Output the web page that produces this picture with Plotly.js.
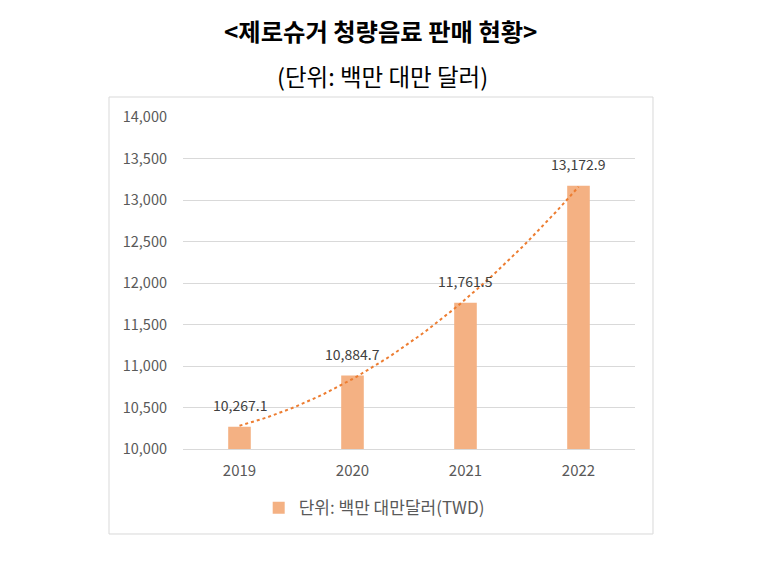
<!DOCTYPE html>
<html>
<head>
<meta charset="utf-8">
<script src="https://cdn.plot.ly/plotly-3.0.1.min.js"></script>
<style>html,body{margin:0;padding:0;background:#fff;}#chart{width:769px;height:583px;}</style>
</head>
<body>
<div id="chart"></div>
<script>
const years = ["2019", "2020", "2021", "2022"];
const sales = [10267.1, 10884.7, 11761.5, 13172.9];
const labels = ["10,267.1", "10,884.7", "11,761.5", "13,172.9"];
const seriesName = "단위: 백만 대만달러(TWD)";
const titleText = "<제로슈거 청량음료 판매 현황>";
const subtitleText = "(단위: 백만 대만 달러)";
const yTicks = [10000, 10500, 11000, 11500, 12000, 12500, 13000, 13500, 14000];

const xs = years.map((_, i) => i);

// polynomial (order 2) trendline, least-squares fit of the data
function quadFit(x, y) {
  const n = x.length;
  let s = [0,0,0,0,0], t = [0,0,0];
  for (let i = 0; i < n; i++) {
    for (let k = 0; k < 5; k++) s[k] += Math.pow(x[i], k);
    for (let k = 0; k < 3; k++) t[k] += y[i] * Math.pow(x[i], k);
  }
  const A = [[s[0], s[1], s[2], t[0]], [s[1], s[2], s[3], t[1]], [s[2], s[3], s[4], t[2]]];
  for (let i = 0; i < 3; i++) {
    for (let j = i + 1; j < 3; j++) {
      const f = A[j][i] / A[i][i];
      for (let k = i; k < 4; k++) A[j][k] -= f * A[i][k];
    }
  }
  const c = [0,0,0];
  for (let i = 2; i >= 0; i--) {
    let v = A[i][3];
    for (let k = i + 1; k < 3; k++) v -= A[i][k] * c[k];
    c[i] = v / A[i][i];
  }
  return c;
}
const coef = quadFit(xs, sales);
const trendX = [], trendY = [];
for (let i = 0; i <= 60; i++) {
  const x = i * (xs.length - 1) / 60;
  trendX.push(x);
  trendY.push(coef[0] + coef[1] * x + coef[2] * x * x);
}

const font = "'Noto Sans CJK KR', 'Noto Sans', sans-serif";

const data = [
  {
    type: "bar",
    x: xs,
    y: sales,
    width: 0.2,
    name: seriesName,
    marker: { color: "#F4B183" },
    hoverinfo: "y"
  },
  {
    type: "scatter",
    mode: "lines",
    x: trendX,
    y: trendY,
    line: { color: "#ED7D31", width: 2, dash: "dot" },
    showlegend: false,
    hoverinfo: "skip"
  }
];

const valueAnnotations = xs.map((x, i) => ({
  x: x,
  y: sales[i],
  xref: "x", yref: "y",
  text: labels[i],
  showarrow: false,
  xanchor: "center",
  yanchor: "middle",
  yshift: 22,
  font: { family: font, size: 14, color: "#404040" }
}));

const layout = {
  width: 769,
  height: 583,
  margin: { l: 183, r: 134, t: 117, b: 134 },
  paper_bgcolor: "#ffffff",
  plot_bgcolor: "#ffffff",
  font: { family: font, color: "#595959", size: 14 },
  showlegend: true,
  xaxis: {
    type: "linear",
    range: [-0.5, 3.5],
    tickvals: xs,
    ticktext: years,
    showgrid: false,
    zeroline: false,
    showline: true,
    linecolor: "#d9d9d9",
    linewidth: 1,
    ticks: "",
    tickfont: { family: font, size: 15, color: "#595959" },
    ticklabelstandoff: 8,
    fixedrange: true
  },
  yaxis: {
    range: [10000, 14000],
    tickvals: yTicks,
    tickformat: ",d",
    showgrid: true,
    gridcolor: "#d9d9d9",
    gridwidth: 1,
    zeroline: false,
    showline: false,
    ticks: "",
    tickfont: { family: font, size: 14.5, color: "#595959" },
    ticklabelstandoff: 15,
    fixedrange: true
  },
  legend: {
    orientation: "h",
    x: 0.423,
    xanchor: "center",
    y: -0.178,
    yanchor: "middle",
    font: { family: font, size: 17, color: "#595959" },
    itemwidth: 30
  },
  shapes: [
    {
      type: "rect",
      xref: "paper", yref: "paper",
      x0: -0.1637, x1: 1.0398, y0: -0.256, y1: 1.0602,
      line: { color: "#d9d9d9", width: 1 },
      fillcolor: "rgba(0,0,0,0)",
      layer: "below"
    }
  ],
  annotations: [
    {
      text: titleText,
      xref: "paper", yref: "paper",
      x: 0.437, y: 1.26,
      xanchor: "center", yanchor: "middle",
      showarrow: false,
      font: { family: font, size: 24.3, color: "#000000", weight: "bold" }
    },
    {
      text: subtitleText,
      xref: "paper", yref: "paper",
      x: 0.4403, y: 1.1235,
      xanchor: "center", yanchor: "middle",
      showarrow: false,
      font: { family: font, size: 23.5, color: "#000000" }
    }
  ].concat(valueAnnotations)
};

Plotly.newPlot("chart", data, layout, { displayModeBar: false, staticPlot: true });
</script>
</body>
</html>
